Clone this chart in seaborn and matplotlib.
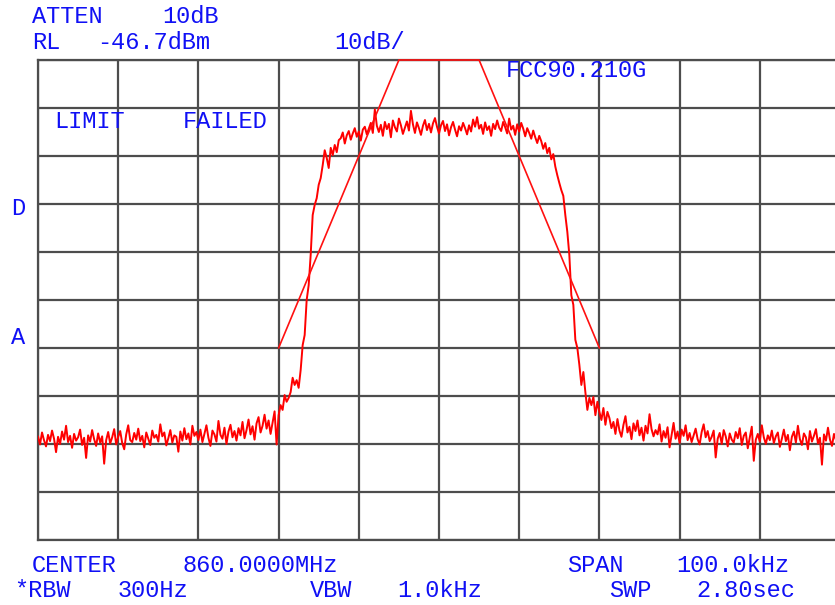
import numpy as np
import pandas as pd
import matplotlib
matplotlib.use("Agg")
import matplotlib.pyplot as plt
import seaborn as sns

# Analyzer settings
CENTER_MHZ = 860.0
SPAN_KHZ = 100.0
REF_LEVEL = -46.7          # dBm, top graticule line
DB_PER_DIV = 10.0
N_POINTS = 401

# Swept trace, dBm, one value per sweep point (left to right)
floor_left = [
    -125.1, -126.8, -124.3, -125.9, -127.2, -124.8, -126.1, -123.9, -125.6, -128.4,
    -125.2, -126.7, -124.1, -125.8, -122.9, -126.3, -125.0, -127.5, -124.6, -126.0,
    -125.3, -123.7, -126.9, -125.4, -129.6, -124.9, -126.2, -123.8, -125.7, -127.1,
    -124.5, -126.4, -125.1, -130.8, -125.9, -124.2, -126.6, -125.3, -123.6, -126.8,
    -125.2, -124.0, -126.5, -127.8, -124.7, -122.8, -125.9, -126.3, -124.4, -125.8,
    -123.5, -126.1, -125.0, -127.4, -124.3, -125.6, -126.9, -123.9, -125.4, -124.8,
    -126.2, -122.6, -125.1, -124.3, -127.0, -125.5, -123.8, -126.4, -124.9, -125.2,
    -128.3, -124.1, -126.0, -123.4, -125.7, -124.5, -126.8, -122.9, -125.0, -124.2,
    -125.9, -123.7, -126.3, -124.6, -122.8, -125.4, -127.1, -123.9, -124.7, -126.2,
    -121.9, -124.8, -125.6, -123.3, -126.7, -124.1, -122.7, -125.3, -124.0, -126.0,
    -123.4, -124.9, -122.1, -125.5, -123.8, -121.6, -124.7, -123.0, -125.8, -122.4,
    -121.1, -124.3, -122.9, -120.6, -123.5, -121.8, -124.6, -122.2, -119.9, -126.8,
]
rising_edge = [
    -120.7, -118.6, -119.6, -116.5, -117.9, -117.1, -115.9, -112.9, -114.4, -113.4,
    -115.0, -111.3, -106.1, -104.0, -96.7, -93.6, -87.3, -79.0, -76.9, -75.5,
    -72.7, -71.3, -68.6, -65.5, -67.1, -69.2, -65.0, -66.5, -64.4, -65.9, -63.4,
]
plateau = [
    -63.0, -61.8, -64.1, -62.4, -61.5, -63.3, -62.0, -60.9, -62.7, -61.6,
    -63.5, -61.2, -60.6, -62.2, -61.0, -59.8, -61.9, -57.0, -60.4, -61.7,
    -60.2, -62.5, -59.6, -61.1, -60.0, -62.8, -59.3, -60.7, -61.6, -58.9,
    -60.3, -62.1, -60.8, -59.5, -61.4, -57.3, -60.1, -61.9, -59.7, -60.9,
    -62.3, -60.4, -59.2, -61.3, -60.0, -61.8, -59.9, -58.8, -60.6, -62.0,
    -60.3, -59.4, -61.5, -60.1, -62.4, -60.7, -59.6, -61.2, -62.6, -60.5,
    -61.4, -59.8, -60.9, -62.2, -60.3, -61.6, -59.1, -60.6, -58.6, -61.0,
    -60.2, -62.1, -59.7, -61.3, -60.5, -62.5, -60.0, -61.1, -59.3, -60.8,
    -61.5, -59.6, -60.7, -62.0, -58.9, -61.2, -60.4, -62.3, -60.1, -61.6,
    -59.8, -61.0, -62.6, -60.9, -61.9, -63.1, -61.4, -62.8, -64.0, -62.5,
    -63.6, -65.2, -64.0, -66.1, -65.0, -67.4, -66.3, -68.9,
]
falling_edge = [
    -70.7, -72.3, -73.8, -75.0, -79.0, -82.5, -87.3, -95.7, -97.7, -105.0,
    -106.7, -110.2, -114.4, -111.7, -115.9, -119.6, -117.1, -118.6, -116.9, -120.7,
    -117.9, -120.0, -121.7, -119.2, -122.7, -120.0, -121.3, -123.4,
]
floor_right = [
    -122.1, -124.6, -121.5, -123.9, -125.2, -122.7, -120.9, -124.3, -123.1, -125.7,
    -122.4, -124.0, -121.8, -124.9, -123.3, -126.0, -122.9, -124.5, -120.5, -123.6,
    -125.1, -123.8, -124.7, -122.6, -126.2, -124.0, -125.4, -123.2, -127.4, -124.8,
    -122.3, -125.6, -124.1, -126.5, -123.7, -125.0, -122.8, -125.9, -124.4, -126.3,
    -124.9, -123.5, -125.7, -126.8, -124.2, -122.6, -125.3, -124.0, -126.1, -125.2,
    -123.9, -129.5, -125.6, -124.4, -126.7, -123.8, -125.1, -127.2, -124.5, -125.8,
    -126.4, -124.2, -125.5, -123.4, -126.9, -125.0, -124.3, -127.6, -125.4, -123.1,
    -130.2, -125.8, -124.6, -126.2, -122.8, -125.3, -126.7, -124.9, -125.9, -123.9,
    -126.5, -125.1, -124.3, -127.3, -125.6, -123.7, -126.1, -124.8, -128.0, -125.2,
    -124.1, -126.4, -122.9, -125.7, -126.9, -124.5, -125.3, -127.8, -124.0, -126.2,
    -125.0, -123.6, -126.6, -125.4, -131.0, -124.7, -126.0, -123.3, -125.8, -127.1,
    -124.6, -125.9, -124.2, -126.4,
]
trace_dbm = floor_left + rising_edge + plateau + falling_edge + floor_right

# FCC 90.210(G) emission mask (offset kHz, dBm)
mask_offset_khz = [-20.0, -5.0, 5.0, 20.0]
mask_dbm = [-106.7, -46.7, -46.7, -106.7]

# Sweep point frequencies as offset from center (kHz)
offset_khz = np.linspace(-SPAN_KHZ / 2, SPAN_KHZ / 2, N_POINTS)
trace_df = pd.DataFrame({"offset": offset_khz, "level": trace_dbm})
mask_df = pd.DataFrame({"offset": mask_offset_khz, "level": mask_dbm})

sns.set_style("white")
plt.rcParams["font.family"] = ["Liberation Mono", "DejaVu Sans Mono"]

W, H = 835, 605
fig = plt.figure(figsize=(W / 100, H / 100), dpi=100)
fig.patch.set_facecolor("white")

# Graticule: 10 x 10 divisions; right edge runs past the window
left_px, right_px, top_px, bottom_px = 38, 840, 60, 540
ax = fig.add_axes([left_px / W, 1 - bottom_px / H,
                   (right_px - left_px) / W, (bottom_px - top_px) / H])
ax.set_facecolor("white")

grid_col = "#4d4d4d"
ax.set_xlim(-SPAN_KHZ / 2, SPAN_KHZ / 2)
ax.set_ylim(REF_LEVEL - 10 * DB_PER_DIV, REF_LEVEL)
ax.set_xticks(np.arange(-50, 51, 10))
ax.set_yticks(REF_LEVEL - DB_PER_DIV * np.arange(0, 11))
ax.grid(True, color=grid_col, linewidth=1.6)
ax.tick_params(length=0, labelbottom=False, labelleft=False)
for s in ax.spines.values():
    s.set_color(grid_col)
    s.set_linewidth(1.6)
ax.set_axisbelow(True)

sns.lineplot(data=trace_df, x="offset", y="level", ax=ax, color="#ff0000",
             linewidth=1.4, estimator=None, sort=False, zorder=4)
sns.lineplot(data=mask_df, x="offset", y="level", ax=ax, color="#ff1010",
             linewidth=1.2, estimator=None, sort=False, zorder=5, clip_on=False)
ax.set_xlabel("")
ax.set_ylabel("")

# Annotation text in screen pixels (left edge, baseline)
blue = "#1010f5"
fs = 17.0
labels = [
    ("ATTEN", 32, 23), ("10dB", 162, 23),
    ("RL", 32, 49), ("-46.7dBm", 97, 49), ("10dB/", 334, 49),
    ("LIMIT", 54, 128), ("FAILED", 183, 128),
    ("FCC90.210G", 506, 77),
    ("D", 11, 215), ("A", 11, 344),
    ("CENTER", 32, 572), ("860.0000MHz", 183, 572),
    ("SPAN", 567, 572), ("100.0kHz", 676, 572),
    ("*RBW", 14, 597), ("300Hz", 118, 597),
    ("VBW", 310, 597), ("1.0kHz", 397, 597),
    ("SWP", 609, 597), ("2.80sec", 696, 597),
]
for txt, x, y in labels:
    fig.text(x / W, 1 - y / H, txt, color=blue, fontsize=fs,
             ha="left", va="baseline", zorder=10)

fig.savefig("out.png", dpi=100, facecolor="white")
